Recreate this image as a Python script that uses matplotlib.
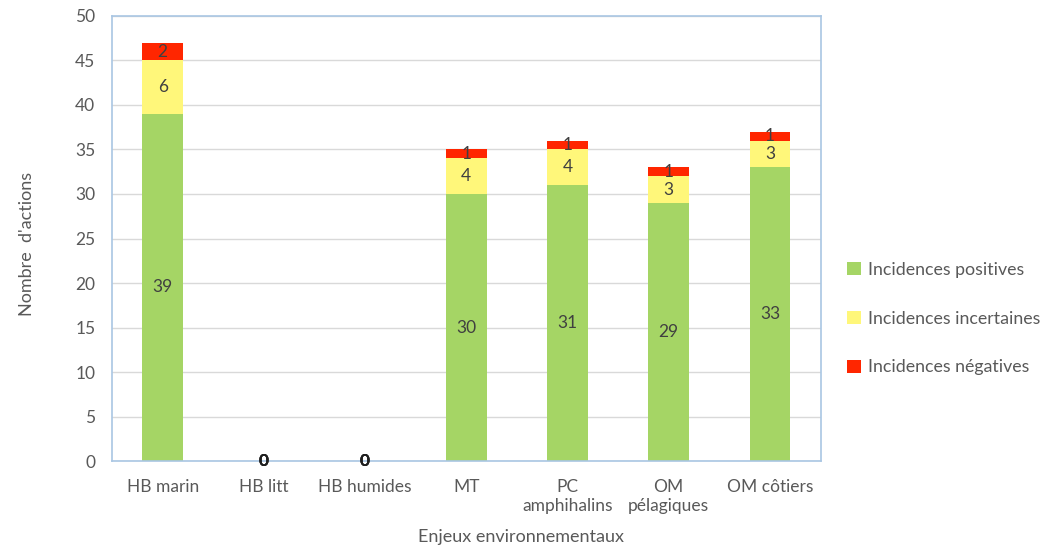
import numpy as np
import matplotlib.pyplot as plt

plt.rcParams['font.family'] = ['Lato', 'DejaVu Sans']

categories = ["HB marin", "HB litt", "HB humides", "MT", "PC\namphihalins",
              "OM\npélagiques", "OM côtiers"]
positives = [39, 0, 0, 30, 31, 29, 33]
incertaines = [6, 0, 0, 4, 4, 3, 3]
negatives = [2, 0, 0, 1, 1, 1, 1]
series_names = ["Incidences positives", "Incidences incertaines", "Incidences négatives"]
colors = ["#A5D565", "#FFF77A", "#FF2600"]

fig = plt.figure(figsize=(10.42, 5.51), dpi=100)
ax = fig.add_axes([0.1075, 0.1633, 0.68, 0.8077])

x = np.arange(len(categories))
bottom = np.zeros(len(categories))
for name, vals, col in zip(series_names, [positives, incertaines, negatives], colors):
    vals = np.array(vals, dtype=float)
    ax.bar(x, vals, 0.4, bottom=bottom, color=col, label=name, zorder=2)
    for xi, b, v in zip(x, bottom, vals):
        if v > 0:
            ax.text(xi, b + v / 2, "%d" % v, ha='center', va='center',
                    fontsize=12.5, color='#404040', zorder=3)
        else:
            ax.text(xi, b, "0", ha='center', va='center', fontsize=12.5,
                    color='#202020', fontweight='bold', zorder=3)
    bottom += vals

ax.set_xlim(-0.5, len(categories) - 0.5)
ax.set_ylim(0, 50)
ax.set_yticks(np.arange(0, 51, 5))
ax.set_xticks(x)
ax.set_xticklabels(categories, linespacing=1.25)
ax.tick_params(length=0, labelsize=12.5, labelcolor='#595959')
ax.tick_params(axis='x', pad=13)
ax.tick_params(axis='y', pad=12)
ax.yaxis.grid(True, color='#D9D9D9', linewidth=1, zorder=0)
ax.set_axisbelow(True)
for s in ax.spines.values():
    s.set_color('#A9C6E3')
    s.set_linewidth(1.2)

fig.text(521 / 1042, 1 - 537 / 551, "Enjeux environnementaux", fontsize=13,
         color='#595959', ha='center', va='center')
fig.text(27 / 1042, 1 - 244 / 551, "Nombre  d'actions", fontsize=13,
         color='#595959', ha='center', va='center', rotation=90)

leg = ax.legend(loc='center left', bbox_to_anchor=(1.015, 0.32), frameon=False,
                fontsize=12.8, labelspacing=1.85, handlelength=0.75, handleheight=0.75,
                handletextpad=0.4)
for t in leg.get_texts():
    t.set_color('#595959')

fig.savefig("out.png", dpi=100)
